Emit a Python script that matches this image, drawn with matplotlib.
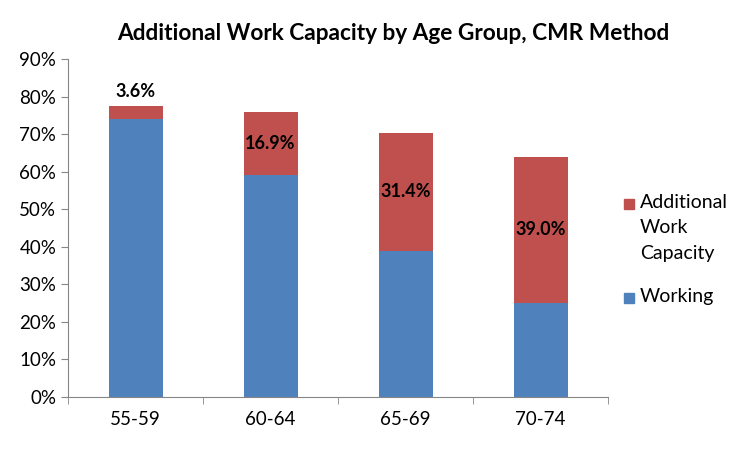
import matplotlib.pyplot as plt
from matplotlib.patches import Rectangle
from matplotlib.ticker import PercentFormatter

plt.rcParams['font.family'] = ['Lato', 'DejaVu Sans']

age_groups = ["55-59", "60-64", "65-69", "70-74"]
working = [74.0, 59.0, 39.0, 25.0]
additional = [3.6, 16.9, 31.4, 39.0]

blue = "#4F81BD"
red = "#C0504D"

fig = plt.figure(figsize=(7.5, 4.5), dpi=100)
ax = fig.add_axes([0.0907, 0.1178, 0.72, 0.7512])

x = list(range(len(age_groups)))
ax.bar(x, working, width=0.4, color=blue, label="Working")
ax.bar(x, additional, width=0.4, bottom=working, color=red,
       label="Additional\nWork\nCapacity")

for i, (w, a) in enumerate(zip(working, additional)):
    if a < 8:
        ax.text(i, w + a + 1.5, f"{a:.1f}%", ha="center", va="bottom",
                fontsize=13, fontweight="bold")
    else:
        ax.text(i, w + a / 2, f"{a:.1f}%", ha="center", va="center",
                fontsize=13, fontweight="bold")

ax.set_xlim(-0.5, 3.5)
ax.set_ylim(0, 90)
ax.set_yticks(range(0, 91, 10))
ax.yaxis.set_major_formatter(PercentFormatter(decimals=0))
ax.set_xticks(x)
ax.set_xticklabels(age_groups)
ax.set_xticks([-0.5, 0.5, 1.5, 2.5, 3.5], minor=True)
ax.tick_params(axis="x", which="major", length=0, labelsize=13.5, pad=10)
ax.tick_params(axis="x", which="minor", length=5, color="#868686")
ax.tick_params(axis="y", length=5, color="#868686", labelsize=13.5)

for s in ["top", "right"]:
    ax.spines[s].set_visible(False)
for s in ["left", "bottom"]:
    ax.spines[s].set_color("#868686")

fig.text(393 / 750, 1 - 34 / 450,
         "Additional Work Capacity by Age Group, CMR Method",
         ha="center", va="center", fontsize=16.3, fontweight="bold")

# legend drawn by hand so the swatch sits on the first line of the label
legend_items = [("Additional\nWork\nCapacity", red, 204), ("Working", blue, 298)]
for label, color, ypix in legend_items:
    yf = 1 - ypix / 450
    fig.patches.append(Rectangle((624 / 750, yf - 5 / 450), 10 / 750, 10 / 450,
                                 transform=fig.transFigure, color=color))
    fig.text(640 / 750, yf + 10 / 450, label, ha="left", va="top",
             fontsize=14, linespacing=1.6)

fig.savefig("out.png", dpi=100)
